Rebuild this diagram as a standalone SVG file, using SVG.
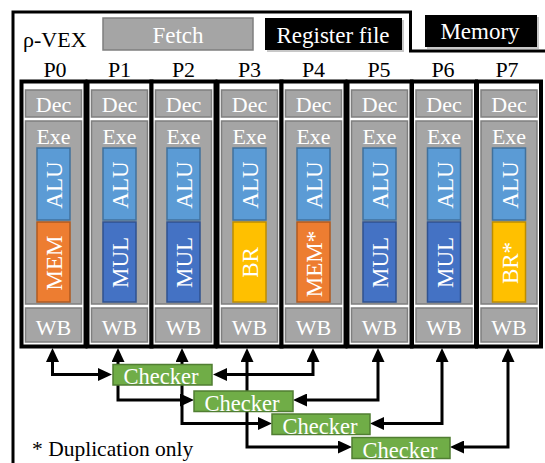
<svg xmlns="http://www.w3.org/2000/svg" width="545" height="463" viewBox="0 0 545 463" font-family="Times New Roman, Liberation Serif, Tinos, Noto Serif, DejaVu Serif, serif">
<style>
text{font-family:"Times New Roman","Liberation Serif",Tinos,"Noto Serif","DejaVu Serif",serif;}
.t{font-size:22px;fill:#fff;text-anchor:middle;}
.lbl{font-size:22px;fill:#000;text-anchor:middle;}
.fr{fill:#fff;stroke:#000;stroke-width:4;}
.g{fill:#a5a5a5;stroke:#7f7f7f;stroke-width:1.5;}
.alu{fill:#5b9bd5;stroke:#41719c;stroke-width:1.5;}
.mul{fill:#4472c4;stroke:#2f528f;stroke-width:1.5;}
.mem{fill:#ed7d31;stroke:#ae5a21;stroke-width:1.5;}
.br{fill:#ffc000;stroke:#bc8c00;stroke-width:1.5;}
.chk{fill:#70ad47;stroke:#507e32;stroke-width:1.5;}
.u{font-size:23px;fill:#fff;text-anchor:middle;}
.ct{font-size:22.5px;fill:#fff;text-anchor:middle;}
.c{fill:none;stroke:#000;stroke-width:3;stroke-linejoin:miter;marker-start:url(#ah);marker-end:url(#ah);}
</style>
<defs>
<marker id="ah" markerUnits="userSpaceOnUse" markerWidth="14" markerHeight="13" refX="9" refY="6.5" orient="auto-start-reverse"><path d="M0,0 L14,6.5 L0,13 z" fill="#000"/></marker>
</defs>
<rect width="545" height="463" fill="#fff"/>
<path d="M13,463 V12 H410.5 V51 H545" fill="none" stroke="#000" stroke-width="3"/>
<text x="23" y="46.5" style="font-size:22px;fill:#000">ρ-VEX</text>
<g id="fetch"><rect x="103" y="18" width="150" height="32" class="g"/><text x="178" y="43" class="t" style="font-size:23px">Fetch</text></g>
<g id="regfile"><rect x="267" y="20" width="137" height="32" fill="#c8c8c8"/><rect x="265" y="18" width="137" height="32" fill="#000"/><text x="333" y="43" class="t" style="font-size:23px">Register file</text></g>
<g id="memory"><rect x="427" y="17" width="112" height="32" fill="#c8c8c8"/><rect x="425" y="15" width="112" height="32" fill="#000"/><text x="480" y="39" class="t" style="font-size:23px">Memory</text></g>

<g id="P0"><text x="55" y="77" class="lbl">P0</text><rect x="21.5" y="81.5" width="64" height="265" class="fr"/>
<rect x="25.5" y="90" width="56" height="27" class="g"/><text x="53.5" y="112" class="t">Dec</text>
<rect x="25.5" y="121" width="56" height="183" class="g"/><text x="53.5" y="144" class="t">Exe</text>
<rect x="37" y="148" width="33" height="72" class="alu"/><text class="u" transform="translate(62,185) rotate(-90)">ALU</text>
<rect x="37" y="222" width="33" height="80" class="mem"/><text class="u" transform="translate(62,263) rotate(-90)">MEM</text>
<rect x="25.5" y="308" width="56" height="34" class="g"/><text x="53.5" y="335" class="t">WB</text></g>

<g id="P1"><text x="119.5" y="77" class="lbl">P1</text><rect x="87.5" y="81.5" width="64" height="265" class="fr"/>
<rect x="91.5" y="90" width="56" height="27" class="g"/><text x="119.5" y="112" class="t">Dec</text>
<rect x="91.5" y="121" width="56" height="183" class="g"/><text x="119.5" y="144" class="t">Exe</text>
<rect x="103" y="148" width="33" height="72" class="alu"/><text class="u" transform="translate(128,185) rotate(-90)">ALU</text>
<rect x="103" y="222" width="33" height="80" class="mul"/><text class="u" transform="translate(128,262.5) rotate(-90)">MUL</text>
<rect x="91.5" y="308" width="56" height="34" class="g"/><text x="119.5" y="335" class="t">WB</text></g>

<g id="P2"><text x="183.5" y="77" class="lbl">P2</text><rect x="151.5" y="81.5" width="64" height="265" class="fr"/>
<rect x="155.5" y="90" width="56" height="27" class="g"/><text x="183.5" y="112" class="t">Dec</text>
<rect x="155.5" y="121" width="56" height="183" class="g"/><text x="183.5" y="144" class="t">Exe</text>
<rect x="167" y="148" width="33" height="72" class="alu"/><text class="u" transform="translate(192,185) rotate(-90)">ALU</text>
<rect x="167" y="222" width="33" height="80" class="mul"/><text class="u" transform="translate(192,262.5) rotate(-90)">MUL</text>
<rect x="155.5" y="308" width="56" height="34" class="g"/><text x="183.5" y="335" class="t">WB</text></g>

<g id="P3"><text x="249.5" y="77" class="lbl">P3</text><rect x="217.5" y="81.5" width="64" height="265" class="fr"/>
<rect x="221.5" y="90" width="56" height="27" class="g"/><text x="249.5" y="112" class="t">Dec</text>
<rect x="221.5" y="121" width="56" height="183" class="g"/><text x="249.5" y="144" class="t">Exe</text>
<rect x="233" y="148" width="33" height="72" class="alu"/><text class="u" transform="translate(258,185) rotate(-90)">ALU</text>
<rect x="233" y="222" width="33" height="80" class="br"/><text class="u" transform="translate(258,262.5) rotate(-90)">BR</text>
<rect x="221.5" y="308" width="56" height="34" class="g"/><text x="249.5" y="335" class="t">WB</text></g>

<g id="P4"><text x="313.5" y="77" class="lbl">P4</text><rect x="281.5" y="81.5" width="64" height="265" class="fr"/>
<rect x="285.5" y="90" width="56" height="27" class="g"/><text x="313.5" y="112" class="t">Dec</text>
<rect x="285.5" y="121" width="56" height="183" class="g"/><text x="313.5" y="144" class="t">Exe</text>
<rect x="297" y="148" width="33" height="72" class="alu"/><text class="u" transform="translate(322,185) rotate(-90)">ALU</text>
<rect x="297" y="222" width="33" height="80" class="mem"/><text class="u" transform="translate(322,264) rotate(-90)">MEM*</text>
<rect x="285.5" y="308" width="56" height="34" class="g"/><text x="313.5" y="335" class="t">WB</text></g>

<g id="P5"><text x="379" y="77" class="lbl">P5</text><rect x="347.5" y="81.5" width="64" height="265" class="fr"/>
<rect x="351.5" y="90" width="56" height="27" class="g"/><text x="379.5" y="112" class="t">Dec</text>
<rect x="351.5" y="121" width="56" height="183" class="g"/><text x="379.5" y="144" class="t">Exe</text>
<rect x="363" y="148" width="33" height="72" class="alu"/><text class="u" transform="translate(388,185) rotate(-90)">ALU</text>
<rect x="363" y="222" width="33" height="80" class="mul"/><text class="u" transform="translate(388,262.5) rotate(-90)">MUL</text>
<rect x="351.5" y="308" width="56" height="34" class="g"/><text x="379.5" y="335" class="t">WB</text></g>

<g id="P6"><text x="443" y="77" class="lbl">P6</text><rect x="412" y="81.5" width="64" height="265" class="fr"/>
<rect x="416" y="90" width="56" height="27" class="g"/><text x="444" y="112" class="t">Dec</text>
<rect x="416" y="121" width="56" height="183" class="g"/><text x="444" y="144" class="t">Exe</text>
<rect x="427.5" y="148" width="33" height="72" class="alu"/><text class="u" transform="translate(452.5,185) rotate(-90)">ALU</text>
<rect x="427.5" y="222" width="33" height="80" class="mul"/><text class="u" transform="translate(452.5,262.5) rotate(-90)">MUL</text>
<rect x="416" y="308" width="56" height="34" class="g"/><text x="444" y="335" class="t">WB</text></g>

<g id="P7"><text x="507" y="77" class="lbl">P7</text><rect x="477" y="81.5" width="64" height="265" class="fr"/>
<rect x="481" y="90" width="56" height="27" class="g"/><text x="509" y="112" class="t">Dec</text>
<rect x="481" y="121" width="56" height="183" class="g"/><text x="509" y="144" class="t">Exe</text>
<rect x="492.5" y="148" width="33" height="72" class="alu"/><text class="u" transform="translate(517.5,185) rotate(-90)">ALU</text>
<rect x="492.5" y="222" width="33" height="80" class="br"/><text class="u" transform="translate(517.5,263) rotate(-90)">BR*</text>
<rect x="481" y="308" width="56" height="34" class="g"/><text x="509" y="335" class="t">WB</text></g>

<g id="connectors">
<path class="c" d="M52.5,353 V374.5 H107"/>
<path class="c" d="M313,353 V374.5 H218"/>
<path class="c" d="M118,353 V400 H189"/>
<path class="c" d="M378,353 V400 H298"/>
<path class="c" d="M182,353 V423.5 H267"/>
<path class="c" d="M442,353 V423.5 H375"/>
<path class="c" d="M247,353 V447 H347"/>
<path class="c" d="M508,353 V447 H455"/>
</g>

<g id="checker1"><rect x="113" y="364.5" width="99" height="20.5" class="chk"/><text x="161" y="384" class="ct">Checker</text></g>
<g id="checker2"><rect x="194" y="391" width="99" height="20.5" class="chk"/><text x="242" y="410.5" class="ct">Checker</text></g>
<g id="checker3"><rect x="272" y="414" width="98" height="20.5" class="chk"/><text x="320" y="433.5" class="ct">Checker</text></g>
<g id="checker4"><rect x="352" y="437.5" width="98" height="21" class="chk"/><text x="400" y="457.5" class="ct">Checker</text></g>

<text x="32" y="455.5" style="font-size:21.5px;fill:#000">* Duplication only</text>
</svg>
